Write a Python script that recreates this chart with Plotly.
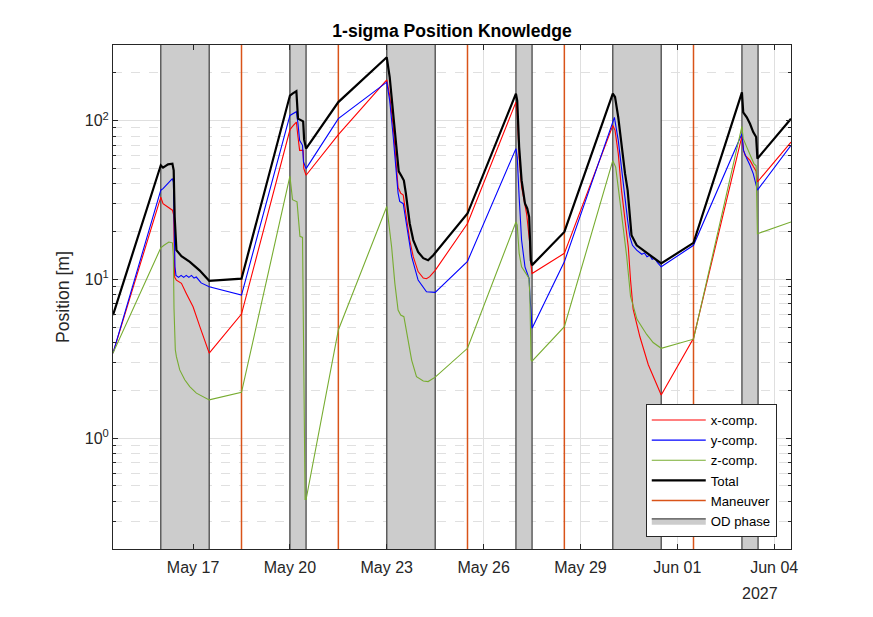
import math
import pandas as pd
import plotly.graph_objects as go

# ---------------- data (time in days since 2027-05-14 00:00) ----------------
BASE = pd.Timestamp("2027-05-14")

x_t = [0.52, 2.0, 2.07, 2.225, 2.36, 2.40, 2.43, 2.484, 2.64, 2.79, 3.0, 3.21, 3.5,
       4.5, 6.0, 6.08, 6.2, 6.25, 6.3, 6.41, 6.43, 6.5,
       7.5, 9.0, 9.09, 9.2, 9.28, 9.35, 9.43, 9.51, 9.59, 9.71, 9.82, 9.97, 10.13, 10.23, 10.33, 10.5,
       11.5, 13.0, 13.04, 13.1, 13.175, 13.25, 13.33, 13.43, 13.46, 13.5,
       14.5, 16.0, 16.07, 16.17, 16.27, 16.38, 16.48, 16.55, 16.63, 16.84, 17.1, 17.5,
       18.5, 20.0, 20.05, 20.1, 20.25, 20.35, 20.44, 20.48, 21.52]
x_v = [3.43, 33.0, 30.0, 28.6, 27.3, 25.4, 10.3, 9.9, 9.44, 8.16, 6.72, 5.04, 3.43,
       6.05, 87.7, 92.0, 98.0, 78.9, 65.0, 65.0, 50.0, 45.3,
       81.7, 181, 144, 91, 59, 38, 35, 34, 26, 17.7, 13.9, 11.2, 10.2, 10.1, 10.4, 11.4,
       22.5, 131, 111, 59, 38.2, 31.5, 26.0, 16.8, 12.6, 10.9,
       14.6, 93.3, 87, 62, 36.5, 23.6, 16.0, 9.9, 6.5, 4.35, 2.9, 1.87,
       4.26, 80, 65, 60.5, 56.2, 51.6, 48, 41.1, 73.3]

y_t = [0.52, 2.0, 2.07, 2.225, 2.36, 2.39, 2.40, 2.44, 2.47, 2.55, 2.63, 2.71, 2.79, 2.87,
       2.95, 3.03, 3.1, 3.25, 3.5,
       4.5, 6.0, 6.15, 6.2, 6.25, 6.3, 6.39, 6.42, 6.5,
       7.5, 9.0, 9.09, 9.2, 9.3, 9.35, 9.4, 9.51, 9.59, 9.77, 9.97, 10.23, 10.5,
       11.5, 13.0, 13.04, 13.1, 13.175, 13.28, 13.35, 13.41, 13.43, 13.46, 13.5,
       14.5, 16.0, 16.05, 16.17, 16.27, 16.38, 16.46, 16.53, 16.61, 16.74, 16.9, 16.98,
       17.06, 17.14, 17.22, 17.3, 17.38, 17.5,
       18.5, 20.0, 20.05, 20.15, 20.25, 20.35, 20.44, 20.48, 21.52]
y_v = [3.43, 36.5, 37.3, 40.2, 43.2, 41, 27, 12, 10.6, 10.3, 10.6, 10.3, 10.6, 10.3,
       10.6, 10.2, 10.35, 9.5, 8.98,
       7.96, 108, 113, 114, 95.7, 75.2, 70, 55, 49.9,
       103, 175, 134, 79, 46.4, 35, 31, 30, 23.6, 13.9, 9.9, 8.36, 8.28,
       13.0, 66.7, 59, 33.1, 17.7, 12, 10.9, 10.1, 8.16, 6.11, 4.92,
       12.9, 100, 105, 75.2, 48.7, 31.5, 23.6, 18.5, 16.4, 15.3, 14.4, 14.7,
       13.9, 14.2, 13.4, 13.6, 12.8, 12.0,
       16.4, 82.8, 65, 57.7, 52.4, 46.4, 38.2, 36.5, 70]

z_t = [0.52, 2.0, 2.1, 2.25, 2.36, 2.39, 2.41, 2.45, 2.484, 2.587, 2.742, 2.897, 3.103, 3.5,
       4.5, 6.0, 6.08, 6.22, 6.31, 6.39, 6.47, 6.5,
       7.5, 9.0, 9.15, 9.25, 9.35, 9.43, 9.53, 9.61, 9.77, 9.92, 10.13, 10.28, 10.5,
       11.5, 13.0, 13.04, 13.1, 13.175, 13.3, 13.4, 13.43, 13.47, 13.5,
       14.5, 16.0, 16.09, 16.25, 16.43, 16.55, 16.75, 17.05, 17.25, 17.5,
       18.5, 20.0, 20.04, 20.15, 20.25, 20.37, 20.44, 20.48, 21.52]
z_v = [3.43, 15.8, 16.4, 17.2, 17.0, 14, 6.5, 3.6, 3.26, 2.69, 2.33, 2.11, 1.92, 1.74,
       1.94, 44.7, 31.8, 30.8, 18.7, 18.4, 0.41, 0.41,
       4.8, 28.8, 16, 9.44, 6.41, 5.96, 5.82, 4.8, 3.1, 2.44, 2.29, 2.27, 2.42,
       3.68, 23, 22, 14.6, 12, 10.9, 10.2, 8.16, 3.1, 3.05,
       5.03, 56, 51, 28, 14, 7.8, 5.6, 4.5, 4.0, 3.68,
       4.2, 92, 77, 68.2, 60.5, 53.7, 52, 19.4, 23]

tot_t = [0.52, 2.0, 2.07, 2.225, 2.36, 2.40, 2.43, 2.484, 2.64, 2.9, 3.2, 3.5,
         4.5, 6.0, 6.08, 6.2, 6.25, 6.36, 6.41, 6.44, 6.5,
         7.5, 9.0, 9.09, 9.2, 9.3, 9.37, 9.45, 9.53, 9.59, 9.71, 9.82, 9.97, 10.13, 10.28, 10.44, 10.5,
         11.5, 13.0, 13.04, 13.1, 13.175, 13.28, 13.35, 13.41, 13.43, 13.46, 13.5,
         14.5, 16.0, 16.07, 16.17, 16.27, 16.38, 16.46, 16.53, 16.58, 16.74, 16.94, 17.15, 17.35, 17.5,
         18.5, 20.0, 20.04, 20.15, 20.25, 20.35, 20.44, 20.48, 21.52]
tot_v = [5.96, 52.4, 50.6, 53.1, 53.6, 48.7, 24.8, 15.3, 14.0, 12.9, 11.4, 9.8,
         10.1, 144, 148, 153.5, 103, 100.4, 99, 76, 66.7,
         131, 251, 188, 111, 65, 48, 45, 42, 35, 22.5, 17.7, 14.9, 13.6, 13.2, 14.2, 14.7,
         26.0, 148, 134, 68.2, 42.2, 30.1, 28, 24.8, 19.4, 13.2, 12.3,
         19.9, 148, 141, 105, 68.2, 46.4, 36.5, 23.6, 19, 16.4, 15.3, 14.2, 13.2, 12.6,
         17.0, 151, 113, 105, 95.7, 84.8, 78.9, 57.7, 103]

od_start = [2.0, 6.0, 9.0, 13.0, 16.0, 20.0]
od_end = [3.5, 6.5, 10.5, 13.5, 17.5, 20.5]
maneuver_t = [4.5, 7.5, 11.5, 14.5, 18.5]

x_range = [0.52, 21.52]
y_range = [0.2, 300]

tick_days = [3, 6, 9, 12, 15, 18, 21]
tick_text = ["May 17", "May 20", "May 23", "May 26", "May 29", "Jun 01", "Jun 04"]
ytick_vals = [1, 10, 100]
ytick_text = ["10<sup>0</sup>", "10<sup>1</sup>", "10<sup>2</sup>"]


def dt(days):
    return [None if d is None else BASE + pd.Timedelta(days=d) for d in days]


# ---------------- figure ----------------
FONT = "Liberation Sans, Arial, Helvetica, sans-serif"
AX = "#262626"
Y_LO, Y_HI = 0.05, 5000
W, H = 865, 609   # page body has an 8px margin

fig = go.Figure()

# OD phases
od_x, od_y = [], []
for s, e in zip(od_start, od_end):
    od_x += [s, s, e, e, s, None]
    od_y += [Y_LO, Y_HI, Y_HI, Y_LO, Y_LO, None]
fig.add_trace(go.Scatter(x=dt(od_x), y=od_y, mode="lines", fill="toself",
                         fillcolor="#CCCCCC", line=dict(color="#4A4A4A", width=1.3),
                         name="OD phase", legendrank=6, hoverinfo="skip"))

# maneuvers
mx, my = [], []
for m in maneuver_t:
    mx += [m, m, None]
    my += [Y_LO, Y_HI, None]
fig.add_trace(go.Scatter(x=dt(mx), y=my, mode="lines",
                         line=dict(color="#D95319", width=1.5),
                         name="Maneuver", legendrank=5))

fig.add_trace(go.Scatter(x=dt(x_t), y=x_v, mode="lines",
                         line=dict(color="#FF0000", width=1.1), name="x-comp.", legendrank=1))
fig.add_trace(go.Scatter(x=dt(y_t), y=y_v, mode="lines",
                         line=dict(color="#0000FF", width=1.1), name="y-comp.", legendrank=2))
fig.add_trace(go.Scatter(x=dt(z_t), y=z_v, mode="lines",
                         line=dict(color="#77AC30", width=1.1), name="z-comp.", legendrank=3))
fig.add_trace(go.Scatter(x=dt(tot_t), y=tot_v, mode="lines",
                         line=dict(color="#000000", width=2.2), name="Total", legendrank=4))

minor_vals = [m * 10 ** k for k in (-1, 0, 1, 2) for m in range(2, 10)]

fig.update_layout(
    width=W, height=H, autosize=False,
    margin=dict(l=105, r=82, t=37, b=68, pad=0),
    paper_bgcolor="white", plot_bgcolor="white",
    font=dict(family=FONT, color=AX, size=16),
    title=dict(text="<b>1-sigma Position Knowledge</b>", x=0.5, xref="paper",
               y=1 - 23 / H, yref="container", yanchor="middle", xanchor="center",
               font=dict(size=17.6, color="#000000", family=FONT)),
    showlegend=True,
    legend=dict(x=0.979, y=0.024, xanchor="right", yanchor="bottom",
                bgcolor="white", bordercolor=AX, borderwidth=1,
                font=dict(size=13.2, color="#000000", family=FONT),
                itemwidth=54, tracegroupgap=0, traceorder="normal"),
    xaxis=dict(type="date", range=dt(x_range),
               tickmode="array", tickvals=dt(tick_days), ticktext=tick_text,
               showgrid=True, gridcolor="#DFDFDF", gridwidth=1,
               showline=True, linecolor=AX, linewidth=1, mirror="ticks",
               ticks="inside", ticklen=5, tickcolor=AX,
               tickfont=dict(size=16, color=AX), zeroline=False,
               ticklabelstandoff=4),
    yaxis=dict(type="log", range=[math.log10(y_range[0]), math.log10(y_range[1])],
               tickmode="array", tickvals=ytick_vals, ticktext=ytick_text,
               showgrid=True, gridcolor="#DFDFDF", gridwidth=1,
               showline=True, linecolor=AX, linewidth=1, mirror="ticks",
               ticks="inside", ticklen=5, tickcolor=AX,
               tickfont=dict(size=16, color=AX), zeroline=False,
               minor=dict(tickmode="array", tickvals=minor_vals, ticks="inside",
                          ticklen=3, tickcolor=AX, showgrid=True,
                          gridcolor="#E0E0E0", griddash="dash", gridwidth=1)),
    annotations=[
        dict(text="Position [m]", x=-(113 - 63) / 678, y=0.5, xref="paper", yref="paper",
             textangle=-90, showarrow=False, xanchor="center", yanchor="middle",
             font=dict(size=17.6, color=AX, family=FONT)),
        dict(text="2027", x=(760 - 113) / 678, y=-(593 - 549) / 504, xref="paper",
             yref="paper", showarrow=False, xanchor="center", yanchor="middle",
             font=dict(size=16, color=AX, family=FONT)),
    ],
)

fig.write_html("out.html")
